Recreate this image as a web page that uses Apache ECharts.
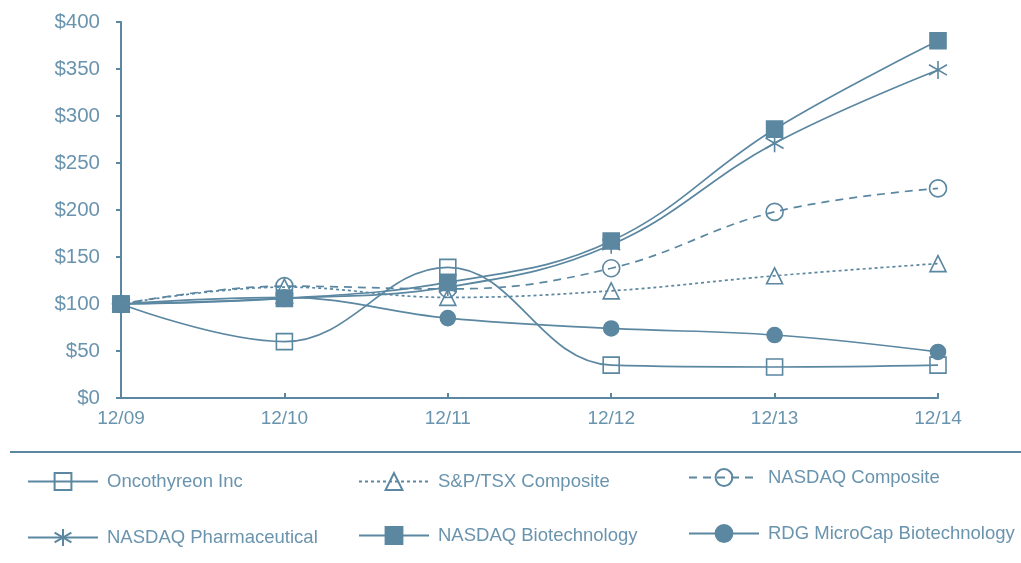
<!DOCTYPE html>
<html>
<head>
<meta charset="utf-8">
<script src="https://cdn.jsdelivr.net/npm/echarts@6/dist/echarts.min.js"></script>
<style>
html,body{margin:0;padding:0;background:#fff;}
#chart{width:1021px;height:563px;}
</style>
</head>
<body>
<div id="chart"></div>
<script>
var categories = ['12/09','12/10','12/11','12/12','12/13','12/14'];
var yTicks = [0,50,100,150,200,250,300,350,400];
var oncothyreon = [100, 60, 139, 35, 33, 35];
var spTsx = [100, 118, 107, 114, 130, 143];
var nasdaqComposite = [100, 119, 116, 138, 198, 223];
var nasdaqPharma = [100, 106, 118, 163, 271, 349];
var nasdaqBiotech = [100, 106, 123, 167, 286, 380];
var rdgMicroCap = [100, 107, 85, 74, 67, 49];
var seriesNames = ['Oncothyreon Inc','S&P/TSX Composite','NASDAQ Composite','NASDAQ Pharmaceutical','NASDAQ Biotechnology','RDG MicroCap Biotechnology'];

var C = '#5b87a1';
var T = '#6a94ae';
var FONT = 'Liberation Sans, Arial, sans-serif';

var asterisk = 'path://M0,-10L0,10M-10,-5.8L10,5.8M-10,5.8L10,-5.8';
var openCircle = 'path://M10,0A10,10 0 1,1 -10,0A10,10 0 1,1 10,0Z';
var openRect = 'path://M-10,-10L10,-10L10,10L-10,10Z';
var openTri = 'path://M0,-10L9,8L-9,8Z';

function mk(name, data, symbol, size, fill, dash, z) {
  return {
    name: name, type: 'line', data: data, smooth: 0.4,
    symbol: symbol, symbolSize: size, symbolKeepAspect: true, z: z,
    lineStyle: { color: C, width: 1.7, type: dash || 'solid' },
    itemStyle: { color: fill, borderColor: C, borderWidth: 1.6 },
    emphasis: { disabled: true }
  };
}

var series = [
  mk(seriesNames[0], oncothyreon, openRect, 16, 'rgba(255,255,255,0)', null, 3),
  mk(seriesNames[1], spTsx, openTri, 16, 'rgba(255,255,255,0)', [3,3], 2),
  mk(seriesNames[2], nasdaqComposite, openCircle, 17, 'rgba(255,255,255,0)', [8,6], 2),
  mk(seriesNames[3], nasdaqPharma, asterisk, 18, 'rgba(255,255,255,0)', null, 2),
  mk(seriesNames[4], nasdaqBiotech, 'rect', 16, C, null, 4),
  mk(seriesNames[5], rdgMicroCap, 'circle', 15, C, null, 4)
];

var legendPos = [
  {left: 22, top: 467},
  {left: 353, top: 467},
  {left: 683, top: 463},
  {left: 22, top: 523},
  {left: 353, top: 521},
  {left: 683, top: 519}
];
var legends = legendPos.map(function (p, i) {
  return {
    data: [seriesNames[i]], left: p.left, top: p.top, orient: 'horizontal',
    itemWidth: 70, itemHeight: 21, selectedMode: false,
    textStyle: { color: T, fontSize: 18.5, fontFamily: FONT, padding: [0,0,0,4] }
  };
});

var chart = echarts.init(document.getElementById('chart'), null, {renderer: 'canvas'});
chart.setOption({
  animation: false,
  backgroundColor: '#fff',
  grid: { left: 121, right: 83, top: 22, bottom: 165 },
  legend: legends,
  graphic: [{
    type: 'line', shape: { x1: 10, y1: 452, x2: 1021, y2: 452 },
    style: { stroke: C, lineWidth: 2 }
  }],
  xAxis: {
    type: 'category', data: categories, boundaryGap: false,
    axisLine: { lineStyle: { color: C, width: 2 } },
    axisTick: { inside: true, length: 5, lineStyle: { color: C, width: 2 } },
    axisLabel: { color: T, fontSize: 19, fontFamily: FONT, margin: 11 },
    splitLine: { show: false }
  },
  yAxis: {
    type: 'value', min: 0, max: 400, interval: 50,
    axisLine: { show: true, lineStyle: { color: C, width: 2 } },
    axisTick: { show: true, length: 5, lineStyle: { color: C, width: 2 } },
    axisLabel: { color: T, fontSize: 20.5, fontFamily: FONT, margin: 21,
      formatter: function (v) { return yTicks.indexOf(v) >= 0 ? '$' + v : ''; } },
    splitLine: { show: false }
  },
  series: series
});
</script>
</body>
</html>
